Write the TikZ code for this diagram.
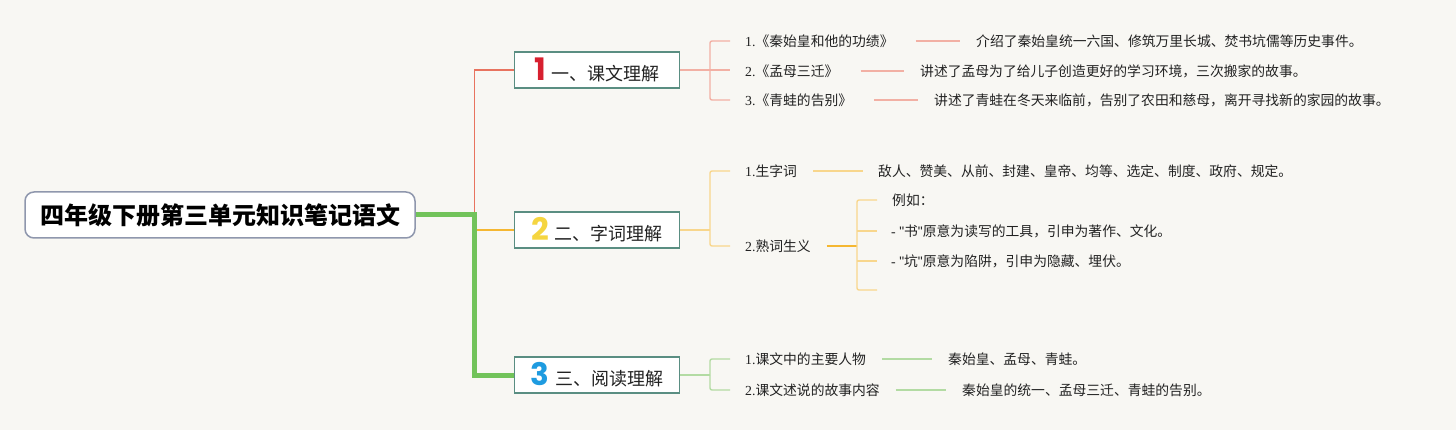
\documentclass[tikz,border=0pt]{standalone}
\usepackage{fontspec}
\setmainfont{Liberation Serif}
\newfontfamily\cjk{Noto Sans CJK SC}
\newfontfamily\numfont{Poppins}
\newfontfamily\qfont{Liberation Sans}[Ligatures=TeXOff]
\usetikzlibrary{calc}
\definecolor{bgc}{HTML}{F8F7F3}
\definecolor{rootborder}{HTML}{8F97AD}
\definecolor{boxborder}{HTML}{5A8E82}
\definecolor{cred}{HTML}{E8735F}
\definecolor{corange}{HTML}{F5B731}
\definecolor{cgreen}{HTML}{72C35A}
\definecolor{lred}{HTML}{F2B0A4}
\definecolor{lorange}{HTML}{F8D68C}
\definecolor{lgreen}{HTML}{B3DBA3}
\definecolor{nred}{HTML}{D7202F}
\definecolor{nyellow}{HTML}{F5D540}
\definecolor{nblue}{HTML}{1E9BE0}
\definecolor{txt}{HTML}{222222}
\tikzset{
  rootbox/.style={draw=rootborder, line width=1.5pt, fill=white, rounded corners=9pt,
    minimum width=390pt, minimum height=46pt, inner sep=0pt,
    font=\cjk\bfseries\fontsize{24}{26}\selectfont, text=black},
  topicbox/.style={draw=boxborder, line width=1.8pt, fill=white,
    minimum width=165pt, minimum height=36pt, inner sep=0pt,
    font=\cjk\fontsize{18}{20}\selectfont, text=txt},
  lbl/.style={anchor=west, inner sep=0pt, font=\fontsize{13.8}{16}\selectfont, text=txt},
  redthin/.style={draw=cred, line width=1.5pt},
  orangemid/.style={draw=corange, line width=2.6pt},
  greenthick/.style={draw=cgreen, line width=5pt},
  bred/.style={draw=lred, line width=1.4pt, rounded corners=2pt},
  borange/.style={draw=lorange, line width=1.4pt, rounded corners=2pt},
  borangestrong/.style={draw=corange, line width=1.8pt, rounded corners=2pt},
  bgreen/.style={draw=lgreen, line width=1.4pt, rounded corners=2pt},
}
\newcommand{\bignum}[2]{{\numfont\bfseries\fontsize{31}{31}\selectfont\color{#1}#2}\hspace{6pt}}
\newcommand{\dq}{{\qfont\symbol{34}}}
\begin{document}
\begin{tikzpicture}[x=1pt,y=-1pt]
\fill[bgc] (0,0) rectangle (1456,430);
\useasboundingbox (0,0) rectangle (1456,430);

% root and topics
\node[rootbox] (root) at (220,215) {四年级下册第三单元知识笔记语文};
\node[topicbox] (b1) at (597,70) {\bignum{nred}{1}一、课文理解};
\node[topicbox] (b2) at (597,230) {\bignum{nyellow}{2}二、字词理解};
\node[topicbox] (b3) at (597,375) {\bignum{nblue}{3}三、阅读理解};

\coordinate (j) at (474.5,215);

% main connectors
\draw[redthin] (j) |- (b1.west);
\draw[orangemid] (j |- b2.west) -- (b2.west);
\draw[greenthick, line join=miter] (root.east) -- (j) |- (b3.west);

% ---------- branch 1 ----------
\node[lbl] (l11) at (745,41) {1.{\cjk《秦始皇和他的功绩》}};
\node[lbl] (l12) at (745,71) {2.{\cjk《孟母三迁》}};
\node[lbl] (l13) at (745,100) {3.{\cjk《青蛙的告别》}};
\node[lbl] (d11) at (976,41) {\cjk 介绍了秦始皇统一六国、修筑万里长城、焚书坑儒等历史事件。};
\node[lbl] (d12) at (920,71) {\cjk 讲述了孟母为了给儿子创造更好的学习环境，三次搬家的故事。};
\node[lbl] (d13) at (934,100) {\cjk 讲述了青蛙在冬天来临前，告别了农田和慈母，离开寻找新的家园的故事。};

\coordinate (k1) at (710,70);
\draw[bred] (b1.east) -- (k1);
\draw[bred] (k1) |- ([xshift=-15pt]l11.west);
\draw[bred] (k1) |- ([xshift=-15pt]l13.west);
\draw[bred] (k1) -- ([xshift=-15pt]k1 -| l12.west);
\draw[bred] ([xshift=22pt]l11.east) -- ([xshift=-16pt]d11.west);
\draw[bred] ([xshift=22pt]l12.east) -- ([xshift=-16pt]d12.west);
\draw[bred] ([xshift=22pt]l13.east) -- ([xshift=-16pt]d13.west);

% ---------- branch 2 ----------
\node[lbl] (l21) at (745,171) {1.{\cjk 生字词}};
\node[lbl] (l22) at (745,246) {2.{\cjk 熟词生义}};
\node[lbl] (d21) at (878,171) {\cjk 敌人、赞美、从前、封建、皇帝、均等、选定、制度、政府、规定。};
\node[lbl] (e1) at (892,200) {\cjk 例如：};
\node[lbl] (e2) at (891,231) {- \dq{\cjk 书}\dq{\cjk 原意为读写的工具，引申为著作、文化。}};
\node[lbl] (e3) at (891,261) {- \dq{\cjk 坑}\dq{\cjk 原意为陷阱，引申为隐藏、埋伏。}};
\coordinate (e4) at (892,290);

\coordinate (k2) at (710,230);
\draw[borange] (b2.east) -- (k2);
\draw[borange] (k2) |- ([xshift=-15pt]l21.west);
\draw[borange] (k2) |- ([xshift=-15pt]l22.west);
\draw[borange] ([xshift=16pt]l21.east) -- ([xshift=-15pt]d21.west);

\coordinate (k3) at (857,246);
\draw[borangestrong] ([xshift=16pt]l22.east) -- (k3);
\draw[borange] (k3) |- ([xshift=-15pt]e1.west);
\draw[borange] (k3) |- ([xshift=-15pt]e4);
\draw[borange] (k3 |- e2.west) -- ([xshift=-14pt]e2.west);
\draw[borange] (k3 |- e3.west) -- ([xshift=-14pt]e3.west);

% ---------- branch 3 ----------
\node[lbl] (l31) at (745,359) {1.{\cjk 课文中的主要人物}};
\node[lbl] (l32) at (745,390) {2.{\cjk 课文述说的故事内容}};
\node[lbl] (d31) at (948,359) {\cjk 秦始皇、孟母、青蛙。};
\node[lbl] (d32) at (962,390) {\cjk 秦始皇的统一、孟母三迁、青蛙的告别。};

\coordinate (k4) at (710,375);
\draw[bgreen] (b3.east) -- (k4);
\draw[bgreen] (k4) |- ([xshift=-15pt]l31.west);
\draw[bgreen] (k4) |- ([xshift=-15pt]l32.west);
\draw[bgreen] ([xshift=16pt]l31.east) -- ([xshift=-16pt]d31.west);
\draw[bgreen] ([xshift=16pt]l32.east) -- ([xshift=-16pt]d32.west);
\end{tikzpicture}
\end{document}
